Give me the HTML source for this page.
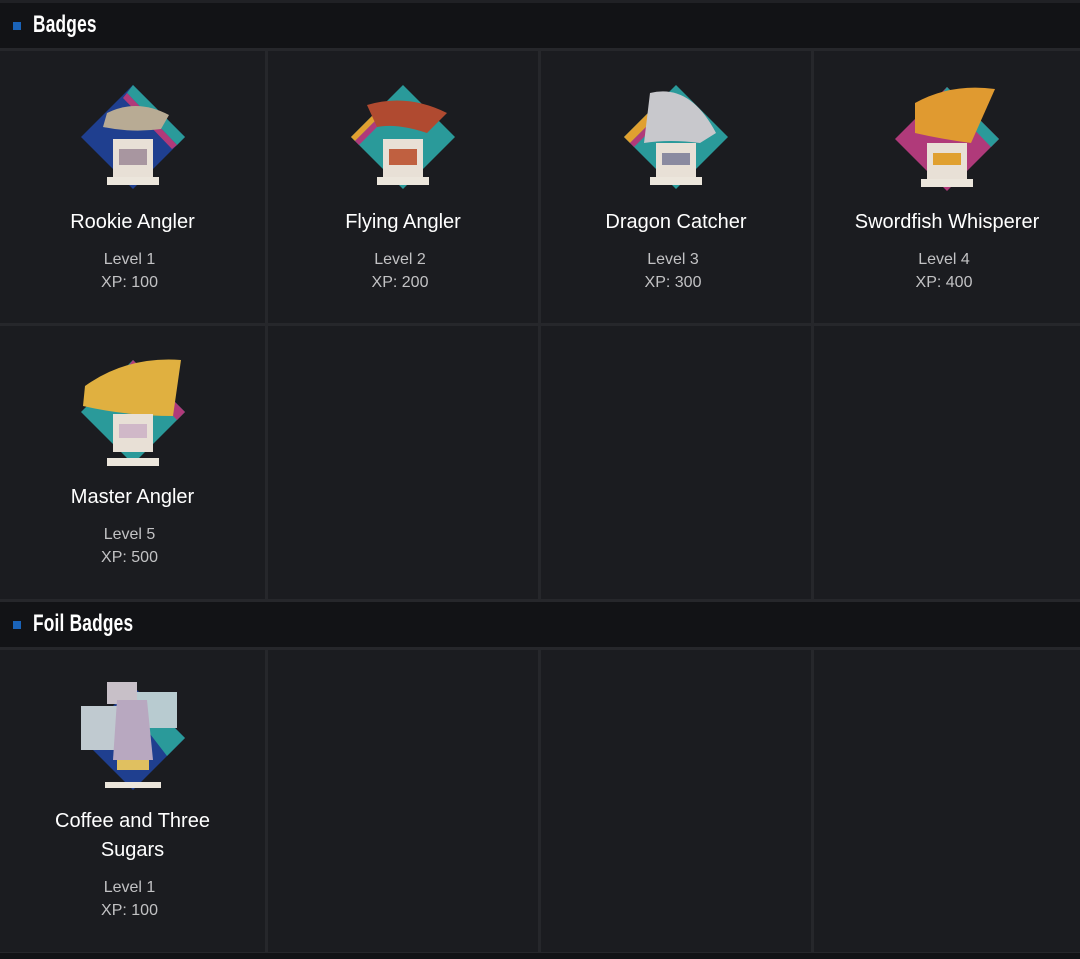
<!DOCTYPE html>
<html><head><meta charset="utf-8"><style>
*{margin:0;padding:0;box-sizing:border-box}
body{width:1080px;height:959px;background:#26272b;position:relative;overflow:hidden;font-family:"Liberation Sans",sans-serif}
.hdr{position:absolute;left:0;width:1080px;height:45px;background:#121316}
.hdr .sq{position:absolute;left:13px;top:19px;width:8px;height:8px;background:#1a63b8}
.hdr .t{position:absolute;left:33px;top:8px;color:#fff;font-family:"Liberation Sans Narrow","Liberation Sans",sans-serif;font-weight:bold;font-size:24px;transform:scaleX(.72);transform-origin:left;letter-spacing:.3px}
.c{position:absolute;background:#1b1c20;text-align:center;color:#fff}
.c .n{position:absolute;left:0;right:0;font-size:20px;line-height:29px}
.c .l{position:absolute;left:0;right:0;font-size:16px;color:#c2c2c4;line-height:23px;padding-right:6px}
.c svg{position:absolute;left:50%;margin-left:-56px}
</style></head><body>
<div style="position:absolute;left:0;top:0;width:1080px;height:3px;background:#202125"></div>
<div class="hdr" style="top:3px"><div class="sq"></div><div class="t">Badges</div></div>
<div class="hdr" style="top:602px"><div class="sq"></div><div class="t">Foil Badges</div></div>
<div style="position:absolute;left:0;top:953px;width:1080px;height:6px;background:#121316"></div>

<!-- row1 -->
<div class="c" style="left:0;top:51px;width:265px;height:272px">
<svg width="112" height="112" viewBox="0 0 112 112" style="top:32px"><polygon points="56,2 108,54 56,106 4,54" fill="#1f3f8f"/><polygon points="56,2 108,54 100,62 50,10" fill="#2a9a9a"/><polygon points="50,10 100,62 95,66 46,15" fill="#b03a7a"/><path d="M30 30 Q60 15 92 32 L84 46 Q55 50 26 44Z" fill="#b8ab94"/><rect x="36" y="56" width="40" height="40" fill="#e8e0d6"/><rect x="42" y="66" width="28" height="16" fill="#a896a0"/><rect x="30" y="94" width="52" height="8" fill="#ece6dc"/></svg>
<div class="n" style="top:157px">Rookie Angler</div><div class="l" style="top:197px">Level 1</div><div class="l" style="top:220px">XP: 100</div></div>
<div class="c" style="left:268px;top:51px;width:270px;height:272px">
<svg width="112" height="112" viewBox="0 0 112 112" style="top:32px"><polygon points="56,2 108,54 56,106 4,54" fill="#2a9a9a"/><polygon points="4,54 30,28 34,32 8,58" fill="#e0a030"/><polygon points="8,58 34,32 38,36 12,62" fill="#b03a7a"/><path d="M20 22 Q60 10 100 30 L80 50 Q50 40 30 44Z" fill="#b04a30"/><rect x="36" y="56" width="40" height="40" fill="#e8e0d6"/><rect x="42" y="66" width="28" height="16" fill="#c06040"/><rect x="30" y="94" width="52" height="8" fill="#ece6dc"/></svg>
<div class="n" style="top:157px">Flying Angler</div><div class="l" style="top:197px">Level 2</div><div class="l" style="top:220px">XP: 200</div></div>
<div class="c" style="left:541px;top:51px;width:270px;height:272px">
<svg width="112" height="112" viewBox="0 0 112 112" style="top:32px"><polygon points="56,2 108,54 56,106 4,54" fill="#2a9a9a"/><polygon points="4,54 30,28 36,34 10,60" fill="#e0a030"/><polygon points="10,60 36,34 40,38 14,64" fill="#b03a7a"/><path d="M30 10 Q70 0 96 50 L80 60 Q50 56 24 60Z" fill="#c8c8cc"/><rect x="36" y="60" width="40" height="36" fill="#e8e0d6"/><rect x="42" y="70" width="28" height="12" fill="#8a8aa0"/><rect x="30" y="94" width="52" height="8" fill="#ece6dc"/></svg>
<div class="n" style="top:157px">Dragon Catcher</div><div class="l" style="top:197px">Level 3</div><div class="l" style="top:220px">XP: 300</div></div>
<div class="c" style="left:814px;top:51px;width:266px;height:272px">
<svg width="112" height="112" viewBox="0 0 112 112" style="top:32px"><polygon points="56,4 108,56 56,108 4,56" fill="#b03a7a"/><polygon points="56,4 108,56 100,64 50,12" fill="#2a9a9a"/><path d="M24 20 Q60 0 104 6 L80 60 Q50 56 24 50Z" fill="#e09a30"/><rect x="36" y="60" width="40" height="36" fill="#e8e0d6"/><rect x="42" y="70" width="28" height="12" fill="#e0a030"/><rect x="30" y="96" width="52" height="8" fill="#ece6dc"/></svg>
<div class="n" style="top:157px">Swordfish Whisperer</div><div class="l" style="top:197px">Level 4</div><div class="l" style="top:220px">XP: 400</div></div>
<!-- row2 -->
<div class="c" style="left:0;top:326px;width:265px;height:273px">
<svg width="112" height="112" viewBox="0 0 112 112" style="top:30px"><polygon points="56,4 108,56 56,108 4,56" fill="#2a9a9a"/><polygon points="56,4 108,56 100,64 50,12" fill="#b03a7a"/><path d="M8 30 Q50 0 104 4 L96 60 Q50 60 6 50Z" fill="#e0b040"/><rect x="36" y="58" width="40" height="38" fill="#e8e0d6"/><rect x="42" y="68" width="28" height="14" fill="#d0b8c8"/><rect x="30" y="102" width="52" height="8" fill="#ece6dc"/></svg>
<div class="n" style="top:157px">Master Angler</div><div class="l" style="top:197px">Level 5</div><div class="l" style="top:220px">XP: 500</div></div>
<div class="c" style="left:268px;top:326px;width:270px;height:273px"></div>
<div class="c" style="left:541px;top:326px;width:270px;height:273px"></div>
<div class="c" style="left:814px;top:326px;width:266px;height:273px"></div>
<!-- foil row -->
<div class="c" style="left:0;top:650px;width:265px;height:302px">
<svg width="112" height="112" viewBox="0 0 112 112" style="top:30px"><polygon points="56,6 108,58 56,110 4,58" fill="#1f3f8f"/><polygon points="80,30 108,58 90,76 70,50" fill="#2a9a9a"/><rect x="30" y="2" width="30" height="22" fill="#c8c0c8"/><rect x="60" y="12" width="40" height="36" fill="#b8cbd0"/><rect x="4" y="26" width="42" height="44" fill="#c0cad0"/><path d="M40 20 L70 20 L76 80 L36 80Z" fill="#b8a8c0"/><rect x="40" y="80" width="32" height="10" fill="#e0c060"/><rect x="28" y="102" width="56" height="6" fill="#ece6dc"/></svg>
<div class="n" style="top:157px">Coffee and Three</div><div class="n" style="top:186px">Sugars</div><div class="l" style="top:226px">Level 1</div><div class="l" style="top:249px">XP: 100</div></div>
<div class="c" style="left:268px;top:650px;width:270px;height:302px"></div>
<div class="c" style="left:541px;top:650px;width:270px;height:302px"></div>
<div class="c" style="left:814px;top:650px;width:266px;height:302px"></div>
</body></html>
